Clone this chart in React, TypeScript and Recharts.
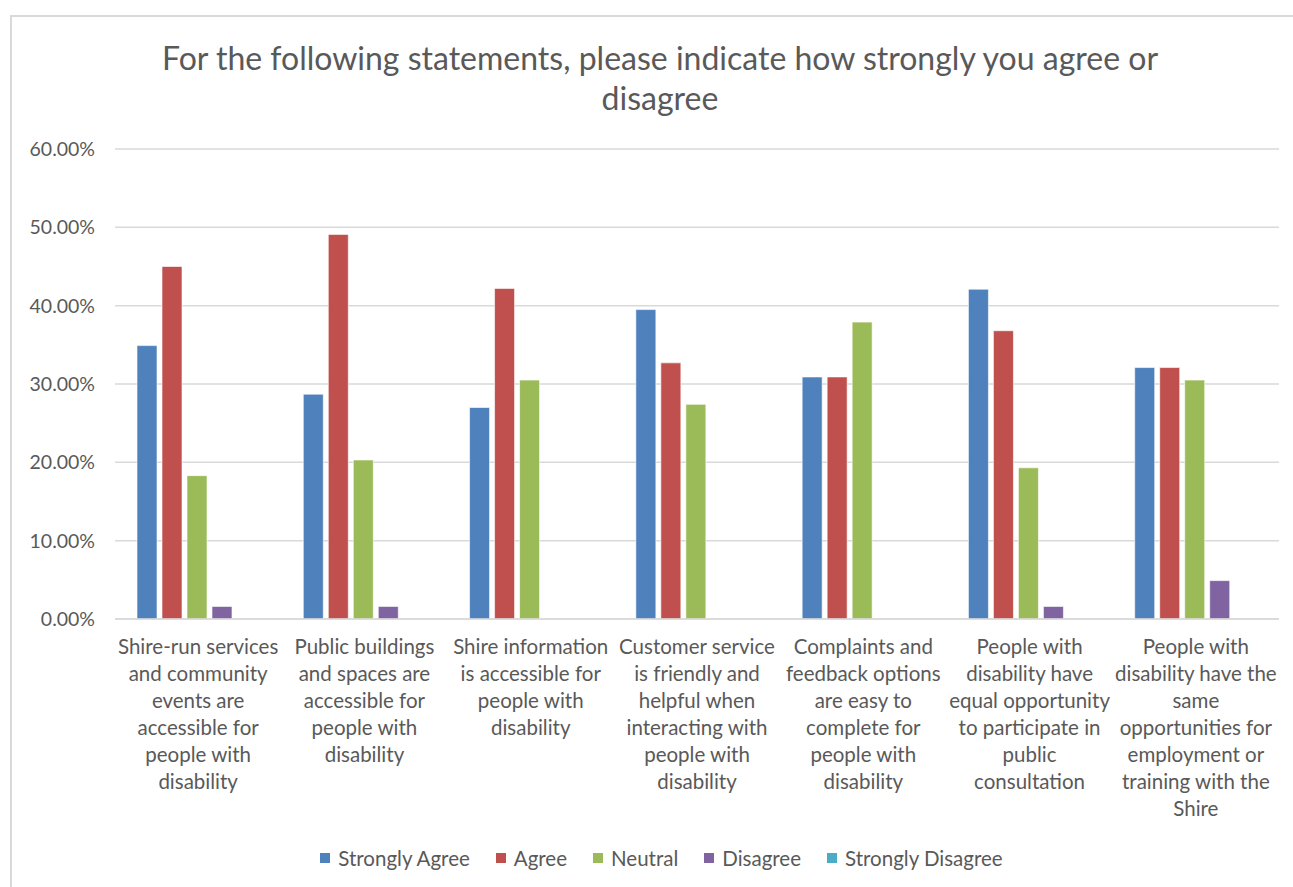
import React from 'react';
import { BarChart, Bar, XAxis, YAxis, CartesianGrid, Legend } from 'recharts';

// statement labels, already broken into lines as in the original
const categoryLines: string[][] = [
  ['Shire-run services', 'and community', 'events are', 'accessible for', 'people with', 'disability'],
  ['Public buildings', 'and spaces are', 'accessible for', 'people with', 'disability'],
  ['Shire information', 'is accessible for', 'people with', 'disability'],
  ['Customer service', 'is friendly and', 'helpful when', 'interacting with', 'people with', 'disability'],
  ['Complaints and', 'feedback options', 'are easy to', 'complete for', 'people with', 'disability'],
  ['People with', 'disability have', 'equal opportunity', 'to participate in', 'public', 'consultation'],
  ['People with', 'disability have the', 'same', 'opportunities for', 'employment or', 'training with the', 'Shire'],
];

const stronglyAgree = [34.9, 28.7, 27.0, 39.5, 30.9, 42.1, 32.1];
const agree = [45.0, 49.1, 42.2, 32.7, 30.9, 36.8, 32.1];
const neutral = [18.3, 20.3, 30.5, 27.4, 37.9, 19.3, 30.5];
const disagree = [1.6, 1.6, 0, 0, 0, 1.6, 4.9];
const stronglyDisagree = [0, 0, 0, 0, 0, 0, 0];

const yTicks = [0, 10, 20, 30, 40, 50, 60];

const series = [
  { key: 'stronglyAgree', name: 'Strongly Agree', color: '#4F81BD' },
  { key: 'agree', name: 'Agree', color: '#C0504D' },
  { key: 'neutral', name: 'Neutral', color: '#9BBB59' },
  { key: 'disagree', name: 'Disagree', color: '#8064A2' },
  { key: 'stronglyDisagree', name: 'Strongly Disagree', color: '#4BACC6' },
];

const data = categoryLines.map((lines, i) => ({
  idx: i,
  stronglyAgree: stronglyAgree[i],
  agree: agree[i],
  neutral: neutral[i],
  disagree: disagree[i],
  stronglyDisagree: stronglyDisagree[i],
}));

const FONT = 'Lato, "Open Sans", sans-serif';
const TEXT = '#595959';

const CategoryTick = (props: any) => {
  const { x, y, payload } = props;
  const lines = categoryLines[payload.value] || [];
  return (
    <g transform={`translate(${x},${y})`}>
      {lines.map((line, i) => (
        <text
          key={i}
          x={0}
          y={i * 27}
          dy={27}
          textAnchor="middle"
          fill={TEXT}
          fontSize={20.5}
          fontFamily={FONT}
        >
          {line}
        </text>
      ))}
    </g>
  );
};

const LegendContent = () => (
  <div style={{ display: 'flex', justifyContent: 'center', fontFamily: FONT, fontSize: 20.5, color: TEXT, paddingLeft: 55 }}>
    {series.map((s) => (
      <div key={s.key} style={{ display: 'flex', alignItems: 'center', marginRight: 26 }}>
        <span style={{ width: 10, height: 10, background: s.color, display: 'inline-block', marginRight: 8 }} />
        <span>{s.name}</span>
      </div>
    ))}
  </div>
);

export default function App() {
  return (
    <div style={{ position: 'absolute', left: 0, top: 0, width: 1293, height: 887, overflow: 'hidden', background: '#fff' }}>
      <div
        style={{
          position: 'absolute',
          left: 10,
          top: 15,
          width: 1320,
          height: 900,
          border: '2px solid #d9d9d9',
          boxSizing: 'border-box',
        }}
      />
      <div
        style={{
          position: 'absolute',
          left: 60,
          top: 38,
          width: 1200,
          textAlign: 'center',
          fontFamily: FONT,
          fontSize: 32,
          lineHeight: '40px',
          color: TEXT,
        }}
      >
        For the following statements, please indicate how strongly you agree or
        <br />
        disagree
      </div>
      <div style={{ position: 'absolute', left: 0, top: 0 }}>
        <BarChart
          width={1293}
          height={887}
          data={data}
          margin={{ top: 149, right: 14, left: 15, bottom: 17 }}
          barCategoryGap={22}
          barGap={5}
        >
          <CartesianGrid vertical={false} stroke="#d9d9d9" strokeWidth={1.5} />
          <XAxis
            dataKey="idx"
            tick={<CategoryTick />}
            tickLine={false}
            axisLine={{ stroke: '#d9d9d9', strokeWidth: 1.5 }}
            interval={0}
            height={227}
          />
          <YAxis
            width={100}
            domain={[0, 60]}
            ticks={yTicks}
            tickFormatter={(v: number) => `${v.toFixed(2)}%`}
            tickLine={false}
            axisLine={false}
            tickSize={0}
            tickMargin={20}
            tick={{ fill: TEXT, fontSize: 19.5, fontFamily: FONT }}
          />
          <Legend verticalAlign="bottom" content={<LegendContent />} />
          {series.map((s) => (
            <Bar
              key={s.key}
              dataKey={s.key}
              name={s.name}
              fill={s.color}
              stroke="#ffffff"
              strokeWidth={0.6}
              isAnimationActive={false}
            />
          ))}
        </BarChart>
      </div>
    </div>
  );
}
